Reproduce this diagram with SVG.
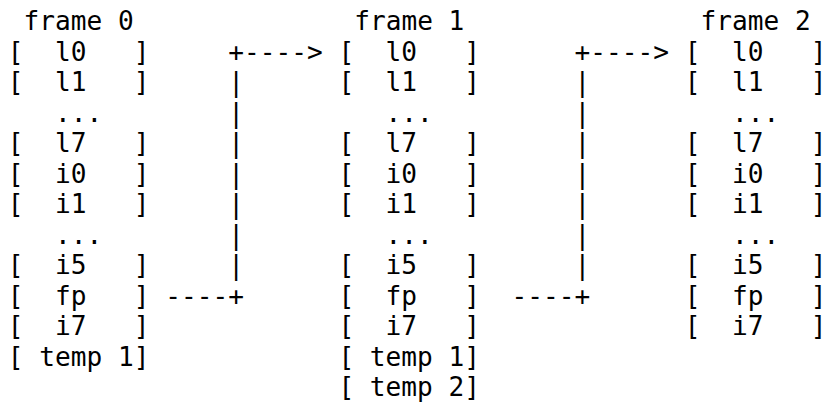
<svg xmlns="http://www.w3.org/2000/svg" width="825" height="406" viewBox="0 0 825 406" xml:space="preserve">
<style>
text { font-family: "DejaVu Sans Mono", "Liberation Mono", monospace; font-size: 26.15px; fill: #000; white-space: pre; }
</style>
<rect width="825" height="406" fill="#fff"/>
<g id="frame0">
<text x="23.5" y="30.3">frame 0</text>
<text x="7.8" y="60.8">[  l0   ]</text>
<text x="7.8" y="91.3">[  l1   ]</text>
<text x="55" y="121.8">...</text>
<text x="7.8" y="152.3">[  l7   ]</text>
<text x="7.8" y="182.8">[  i0   ]</text>
<text x="7.8" y="213.3">[  i1   ]</text>
<text x="55" y="243.8">...</text>
<text x="7.8" y="274.3">[  i5   ]</text>
<text x="7.8" y="304.8">[  fp   ]</text>
<text x="7.8" y="335.3">[  i7   ]</text>
<text x="7.8" y="365.8">[ temp 1]</text>
</g>
<g id="frame1">
<text x="354.2" y="30.3">frame 1</text>
<text x="338.4" y="60.8">[  l0   ]</text>
<text x="338.4" y="91.3">[  l1   ]</text>
<text x="385.6" y="121.8">...</text>
<text x="338.4" y="152.3">[  l7   ]</text>
<text x="338.4" y="182.8">[  i0   ]</text>
<text x="338.4" y="213.3">[  i1   ]</text>
<text x="385.6" y="243.8">...</text>
<text x="338.4" y="274.3">[  i5   ]</text>
<text x="338.4" y="304.8">[  fp   ]</text>
<text x="338.4" y="335.3">[  i7   ]</text>
<text x="338.4" y="365.8">[ temp 1]</text>
<text x="338.4" y="396.3">[ temp 2]</text>
</g>
<g id="frame2">
<text x="700.5" y="30.3">frame 2</text>
<text x="684.8" y="60.8">[  l0   ]</text>
<text x="684.8" y="91.3">[  l1   ]</text>
<text x="732" y="121.8">...</text>
<text x="684.8" y="152.3">[  l7   ]</text>
<text x="684.8" y="182.8">[  i0   ]</text>
<text x="684.8" y="213.3">[  i1   ]</text>
<text x="732" y="243.8">...</text>
<text x="684.8" y="274.3">[  i5   ]</text>
<text x="684.8" y="304.8">[  fp   ]</text>
<text x="684.8" y="335.3">[  i7   ]</text>
</g>
<g id="connectors">
<text x="228.2" y="60.8">+----&gt;</text>
<text x="228.2" y="91.3">|</text>
<text x="228.2" y="121.8">|</text>
<text x="228.2" y="152.3">|</text>
<text x="228.2" y="182.8">|</text>
<text x="228.2" y="213.3">|</text>
<text x="228.2" y="243.8">|</text>
<text x="228.2" y="274.3">|</text>
<text x="165.2" y="304.8">----+</text>
<text x="574.6" y="60.8">+----&gt;</text>
<text x="574.6" y="91.3">|</text>
<text x="574.6" y="121.8">|</text>
<text x="574.6" y="152.3">|</text>
<text x="574.6" y="182.8">|</text>
<text x="574.6" y="213.3">|</text>
<text x="574.6" y="243.8">|</text>
<text x="574.6" y="274.3">|</text>
<text x="511.6" y="304.8">----+</text>
</g>
</svg>
